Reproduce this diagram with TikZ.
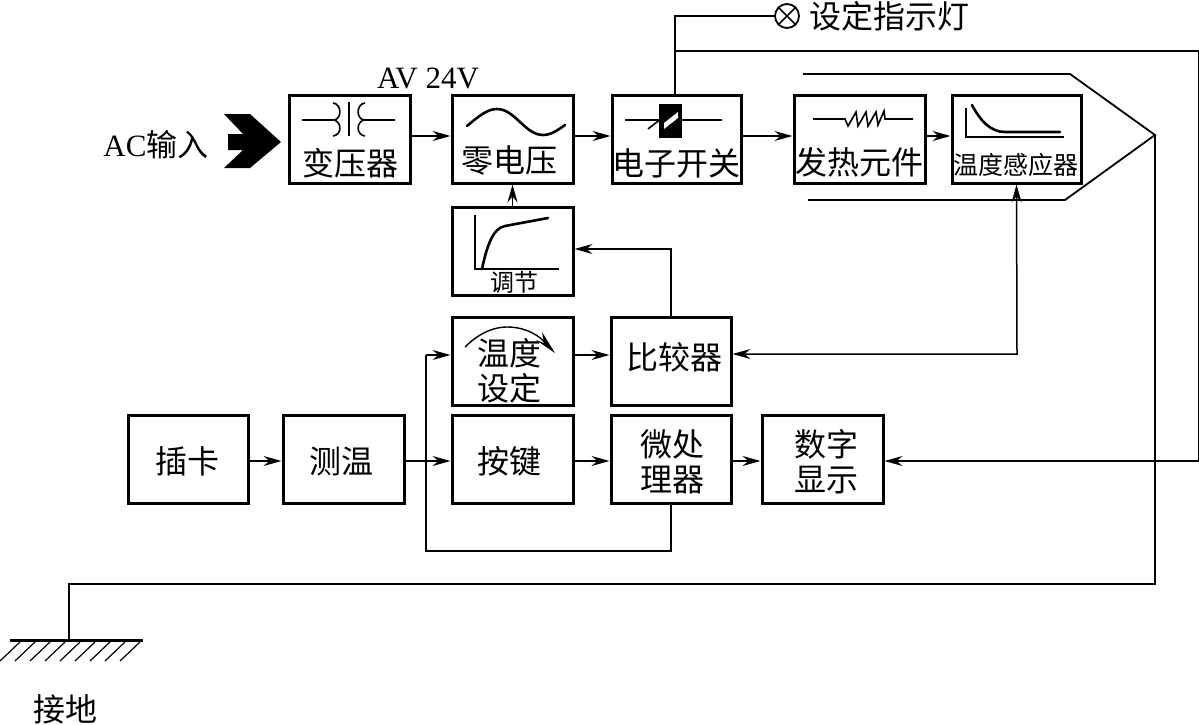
\documentclass[tikz,border=0pt]{standalone}
\usepackage{fontspec}
\setmainfont{Liberation Serif}
\newfontfamily\cjk{Noto Sans CJK SC}
\usetikzlibrary{arrows.meta,calc}
\tikzset{
  blk/.style={draw,line width=3pt,minimum width=121pt,minimum height=88pt,inner sep=0pt},
  lbl/.style={inner sep=0pt,align=center,font=\cjk\fontsize{32}{35}\selectfont},
  con/.style={line width=1.5pt},
  arr/.style={line width=1.5pt,-{Stealth[length=18pt,width=10pt,inset=6pt]}},
  barr/.style={line width=1.5pt,{Stealth[length=18pt,width=10pt,inset=6pt]}-{Stealth[length=18pt,width=10pt,inset=6pt]}},
  icon/.style={line width=1.6pt},
  thickicon/.style={line width=2.6pt,line cap=round}
}
\begin{document}
\begin{tikzpicture}[x=1pt,y=-1pt]
\useasboundingbox (0,0) rectangle (1199,725);
% boxes
\node[blk] (tr) at (349.5,139) {};
\node[blk] (zv) at (512.5,139) {};
\node[blk,minimum width=129pt] (sw) at (676.5,139) {};
\node[blk,minimum width=131pt] (ht) at (859.5,139) {};
\node[blk,minimum width=129pt] (ts) at (1016.5,139) {};
\node[blk] (rg) at (512.5,251) {};
\node[blk] (st) at (512.5,361) {};
\node[blk,minimum width=120pt] (cp) at (671,361) {};
\node[blk,minimum width=120pt] (ic) at (188,459) {};
\node[blk] (ms) at (343.5,459) {};
\node[blk] (kb) at (512.5,459) {};
\node[blk,minimum width=120pt] (mp) at (671,459) {};
\node[blk] (dd) at (822.5,459) {};
% box labels
\node[lbl] (t1) at (350,163) {变压器};
\node[lbl] (t2) at (509,160) {零电压};
\node[lbl] (t3) at (676,163) {电子开关};
\node[lbl] (t4) at (859,162) {发热元件};
\node[lbl,font=\cjk\fontsize{25}{30}\selectfont] (t5) at (1016,165) {温度感应器};
\node[lbl,font=\cjk\fontsize{24}{26}\selectfont] (t6) at (514,282) {调节};
\node[lbl] (t7) at (509,371) {温度\\设定};
\node[lbl] (t8) at (674,357) {比较器};
\node[lbl] (t9) at (187,461) {插卡};
\node[lbl] (t10) at (341,461) {测温};
\node[lbl] (t11) at (509,461) {按键};
\node[lbl] (t12) at (672,462) {微处\\理器};
\node[lbl] (t13) at (826,462) {数字\\显示};
% free labels
\node[lbl] (lamplbl) at (889,16) {设定指示灯};
\node[lbl] (gndlbl) at (65,709) {接地};
\node[inner sep=0pt,font=\fontsize{31}{34}\selectfont] (ac) at (156,145) {AC{\cjk 输入}};
\node[inner sep=0pt,font=\fontsize{31}{34}\selectfont] (av) at (428,78) {AV 24V};
% AC chevron
\fill (224,114) -- (250,114) -- (281,142) -- (250,168) -- (224,168) -- (243,150) -- (228,150) -- (228,134) -- (243,134) -- cycle;
% forward arrows
\draw[arr] ([yshift=3pt]tr.east) -- ([yshift=3pt]zv.west);
\draw[arr] ([yshift=3pt]zv.east) -- ([yshift=3pt]sw.west);
\draw[arr] ([yshift=3pt]sw.east) -- ([yshift=3pt]ht.west);
\draw[arr] ([yshift=3pt]ht.east) -- ([yshift=3pt]ts.west);
\draw[arr] (rg.north) -- (zv.south);
\draw[arr] ([yshift=6pt]st.east) -- ([yshift=6pt]cp.west);
\draw[arr] ([yshift=-2pt]ic.east) -- ([yshift=-2pt]ms.west);
\draw[arr] ([yshift=-2pt]ms.east) -- ([yshift=-2pt]kb.west);
\draw[arr] ([yshift=-2pt]kb.east) -- ([yshift=-2pt]mp.west);
\draw[arr] ([yshift=-2pt]mp.east) -- ([yshift=-2pt]dd.west);
% comparator
\draw[arr] (cp.north) |- ([yshift=2pt]rg.east);
\coordinate (cc) at (1017,354);
\draw[barr] ([yshift=7pt]cp.east) -- (cc) -- (ts.south);
% feedback
\coordinate (fb) at (426,551);
\coordinate (fbt) at (426,355);
\draw[con] (mp.south) |- (fb) -- (fbt);
\draw[arr] (fbt) -- ([yshift=6pt]st.west);
% lamp and supply lines
\coordinate (lt) at (675,16);
\coordinate (pj) at (675,51);
\coordinate (pr) at (1199,51);
\coordinate (pb) at (1199,461);
\node[draw,circle,line width=1.8pt,minimum size=24pt,inner sep=0pt] (lamp) at (787,16) {};
\draw[line width=1.6pt] (lamp.north west) -- (lamp.south east) (lamp.north east) -- (lamp.south west);
\draw[con] (sw.north -| lt) -- (lt) -- (lamp.west);
\draw[con] (pj) -- (pr) -- (pb);
\draw[arr] (pb) -- ([yshift=-2pt]dd.east);
% sheath
\coordinate (tip) at (1155,135);
\draw[line width=1.8pt] (803,74) -- (1070,74) -- (tip) -- (1065,200) -- (808,200);
% ground
\coordinate (g1) at (1155,584);
\coordinate (g2) at (69,584);
\coordinate (g3) at (69,640);
\draw[con] (tip) -- (g1) -- (g2) -- (g3);
\draw[line width=3pt] (10,640) -- (143,640);
\foreach \i in {0,...,8} \draw[line width=1.2pt] ({\i*15},661) -- ({\i*15+20},642);
% transformer icon
\draw[icon] (302,120) -- (333,120) (333,103) .. controls (342,104) and (342,119) .. (334,120) .. controls (342,122) and (342,135) .. (333,136);
\draw[icon] (349,102) -- (349,136);
\draw[icon] (365,103) .. controls (356,104) and (356,119) .. (364,120) .. controls (356,122) and (356,135) .. (365,136);
\draw[icon] (364,120) -- (395,120);
% sine
\draw[thickicon] (467,126) .. controls (480,115) and (488,109) .. (497,109) .. controls (515,109) and (525,135) .. (543,135) .. controls (551,135) and (558,130) .. (565,125);
% regulation graph
\draw[icon] (475,215) -- (475,269) -- (559,269);
\draw[thickicon] (482,269) .. controls (486,250) and (492,228) .. (505,226) -- (548,218);
% switch icon
\draw[icon] (625,120) -- (722,120);
\draw[icon] (648,129) -- (662,118);
\fill (659,104) rectangle (682,138);
\fill[white] (664,123) -- (678,112) -- (678,118) -- (664,129) -- cycle;
% heater icon: slanted sawtooth
\draw[icon] (813,119) -- (845,119) -- (848,126) -- (856,112) -- (858,126) -- (866,112) -- (868,126) -- (876,112) -- (878,125) -- (884,111) -- (885,119) -- (913,119);
% sensor icon
\draw[icon] (966,108) -- (966,137) -- (1064,137);
\draw[thickicon] (972,105) .. controls (980,120) and (990,132) .. (1005,132) -- (1060,132);
% setting arc
\draw[line width=1.4pt] (465,347) .. controls (480,332) and (495,327) .. (507,327) .. controls (525,327) and (540,335) .. (548,346);
\fill (555,353) -- (542,332) -- (544,343) -- (536,340) -- cycle;
\end{tikzpicture}
\end{document}
